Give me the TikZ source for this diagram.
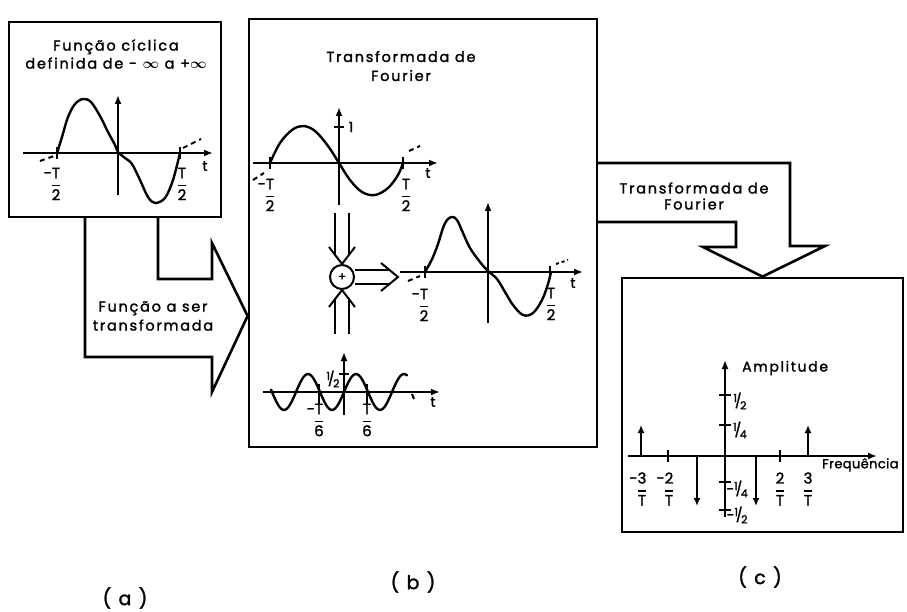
\documentclass[tikz,border=0pt]{standalone}
\usepackage{amsmath}
\usepackage{fontspec}
\newfontfamily\lettering[LetterSpace=12, FakeBold=1.6]{Poppins}
\newfontfamily\letteringn[LetterSpace=3, FakeBold=1.6]{Poppins}
\usetikzlibrary{arrows.meta}
\newcommand\fr[3]{\llap{#1}#2\\[-6pt]\rule[3pt]{8pt}{1.6pt}\\[-6pt]#3}
\newcommand\sfr[2]{\raisebox{0.5ex}{\fontsize{11}{11}\selectfont#1}\kern-0.15em/\kern-0.1em\raisebox{-0.45ex}{\fontsize{11}{11}\selectfont#2}}
\tikzset{
  boxst/.style={draw, line width=2.8pt, inner sep=0pt},
  blk/.style={line width=2.6pt, line join=miter},
  axis/.style={line width=2.2pt, -{Latex[length=9pt,width=7pt]}},
  crv/.style={line width=2.4pt, line cap=round},
  tck/.style={line width=2pt},
  dsh/.style={line width=2pt, dash pattern=on 5pt off 4pt},
  dblline/.style={line width=2pt, line join=miter},
  txt/.style={font=\lettering\fontsize{14.5}{16}\selectfont, inner sep=0pt, align=center},
  fracl/.style={font=\lettering\fontsize{15}{17}\selectfont, align=center, inner sep=0pt},
  small/.style={font=\lettering\fontsize{14}{14}\selectfont, inner sep=0pt},
  spec/.style={line width=2.4pt, -{Latex[length=8pt,width=7pt]}},
  captext/.style={font=\lettering\fontsize{19}{21}\selectfont, inner sep=0pt}
}
\begin{document}
\begin{tikzpicture}[x=1pt,y=-1pt]
\useasboundingbox (0,0) rectangle (907,612);
\clip (0,0) rectangle (907,612);
\fill[white] (0,0) rectangle (907,612);

% ---------- boxes
\node[boxst, minimum width=212pt, minimum height=195pt] (boxA) at (115,119.5) {};
\node[boxst, minimum width=348pt, minimum height=428pt] (boxB) at (423,233) {};
\node[boxst, minimum width=281pt, minimum height=254pt] (boxC) at (762.5,405) {};

% ---------- block arrow a -> b
\draw[blk] (85,217) -- (85,357) -- (212,357) -- (212,392) -- (boxB.west |- 0,316)
  -- (212,243) -- (212,279) -- (158,279) -- (158,217);
\node[txt] (lblab) at (153,316) {Função a ser\\[3pt]transformada};

% ---------- block arrow b -> c
\draw[blk] (597,163) -- (790,163) -- (790,246) -- (825,246) -- (boxC.north)
  -- (703,247) -- (736,247) -- (736,222) -- (597,222);
\node[txt] (lblbc) at (694,196) {Transformada de\\[0pt]Fourier};

% ---------- box (a)
\node[txt] (titA) at (116,54) {Função cíclica\\[2pt]definida de - $\boldsymbol{\infty}$ a +$\boldsymbol{\infty}$};
\draw[axis] (23,153) -- (213,153);
\draw[axis] (118,195) -- (118,95);
\draw[crv] plot[smooth, tension=0.55] coordinates {(57,153) (62,137) (68,117) (75,104) (83,99) (91,102) (100,116) (108,132) (115,145) (118,152) (125,158) (132,164) (140,180) (148,197) (155,203) (165,198) (173,180) (180,153)};
\draw[tck] (57,147) -- (57,159);
\draw[tck] (180,147) -- (180,159);
\draw[dsh] (40,161) -- (54,156);
\draw[dsh] (183,148) -- (201,139);
\node[fracl] (fa1) at (56,184) {\fr{-}{T}{2}};
\node[fracl] (fa2) at (182,184) {\fr{}{T}{2}};
\node[small] (ta) at (205,166) {t};

% ---------- box (b)
\node[txt] (titB) at (401,66) {Transformada de\\[3pt]Fourier};
% top plot
\draw[axis] (253,163) -- (438,163);
\draw[axis] (339,205) -- (339,107);
\draw[tck] (334,127) -- (344,127);
\node[small] (one) at (351,127) {1};
\draw[crv] plot[smooth, tension=0.6] coordinates {(270,163) (280,143) (292,130) (303,126) (315,131) (328,146) (339,163) (350,180) (362,192) (375,195) (388,188) (398,175) (403,163)};
\draw[tck] (270,157) -- (270,169);
\draw[tck] (403,157) -- (403,169);
\draw[dsh] (253,180) -- (264,173);
\draw[dsh] (409,151) -- (420,146);
\node[fracl] (fb1) at (270,195) {\fr{-}{T}{2}};
\node[fracl] (fb2) at (406,195) {\fr{}{T}{2}};
\node[small] (tb1) at (428,173) {t};

% summing junction
\node[circle, draw, line width=2pt, minimum size=24pt, inner sep=0pt, font=\lettering\large] (junc) at (342,277) {+};
% incoming from above
\coordinate (inT) at (342,213);
\draw[dblline] ([xshift=-7pt]inT) -- ([xshift=-7pt]inT |- 0,255);
\draw[dblline] ([xshift=7pt]inT) -- ([xshift=7pt]inT |- 0,255);
\draw[dblline] (329,247) -- (junc.north) -- (355,247);
% incoming from below
\coordinate (inB) at (342,334);
\draw[dblline] ([xshift=-7pt]inB) -- ([xshift=-7pt]inB |- 0,298);
\draw[dblline] ([xshift=7pt]inB) -- ([xshift=7pt]inB |- 0,298);
\draw[dblline] (329,307) -- (junc.south) -- (355,307);
% outgoing to the right
\coordinate (outR) at (398,277);
\draw[dblline] ([yshift=-7pt]junc.east) -- ([yshift=-7pt]outR -| 390,0);
\draw[dblline] ([yshift=7pt]junc.east) -- ([yshift=7pt]outR -| 390,0);
\draw[dblline] (381,263) -- (outR) -- (381,291);

% middle-right plot
\draw[axis] (400,272) -- (583,272);
\draw[axis] (488,323) -- (488,202);
\draw[crv] plot[smooth, tension=0.6] coordinates {(425,272) (429,265) (433,257) (438,244) (443,228) (447,220) (452,217) (457,220) (463,233) (470,248) (480,262) (488,271) (497,279) (505,292) (513,305) (523,315) (533,313) (542,300) (548,284) (551,272)};
\draw[tck] (425,266) -- (425,278);
\draw[tck] (550,266) -- (550,278);
\draw[dsh] (408,281) -- (420,276);
\draw[line width=2pt, dash pattern=on 3pt off 3pt] (556,264) -- (568,260);
\node[fracl] (fm1) at (424,305) {\fr{-}{T}{2}};
\node[fracl] (fm2) at (551,304) {\fr{}{T}{2}};
\node[small] (tm) at (573,283) {t};

% bottom plot
\draw[axis] (263,392) -- (440,392);
\draw[axis] (344,415) -- (344,352);
\draw[tck] (339,374) -- (349,374);
\node[small] (half) at (333,379) {\sfr{1}{2}};
\draw[crv, domain=271:407, samples=80, smooth] plot (\x, {392-18*sin(180*(\x-344)/24)});
\draw[tck] (319,384) -- (319,404);
\draw[tck] (367,384) -- (367,404);
\draw[line width=2pt] (412,394) -- (414,399);
\node[fracl] (fs1) at (319,420) {\fr{-}{T}{6}};
\node[fracl] (fs2) at (367,420) {\fr{}{T}{6}};
\node[small] (tbb) at (433,402) {t};

% ---------- box (c)
\draw[axis] (628,456) -- (877,456);
\draw[axis] (725,517) -- (725,360);
\node[small, anchor=west] (amp) at (742,368) {Amplitude};
\node[font=\letteringn\fontsize{13}{13}\selectfont, inner sep=0pt, anchor=west] (freq) at (822,465) {Frequência};
\foreach \yy in {395,425,482,510} \draw[tck] (719,\yy) -- (731,\yy);
\node[small] (c1) at (740,401) {\sfr{1}{2}};
\node[small] (c2) at (740,430) {\sfr{1}{4}};
\node[small] (c3) at (741,489) {\llap{-}\sfr{1}{4}};
\node[small] (c4) at (741,515) {\llap{-}\sfr{1}{2}};
\draw[tck] (668,450) -- (668,462);
\draw[tck] (780,450) -- (780,462);
\draw[spec] (641,456) -- (641,425);
\draw[spec] (808,456) -- (808,425);
\draw[spec] (697,456) -- (697,506);
\draw[spec] (756,456) -- (756,506);
\node[fracl] (s1) at (642,489) {\fr{-}{3}{T}};
\node[fracl] (s2) at (669,489) {\fr{-}{2}{T}};
\node[fracl] (s3) at (780,489) {\fr{}{2}{T}};
\node[fracl] (s4) at (808,489) {\fr{}{3}{T}};

% ---------- captions
\node[captext] (capa) at (125,598) {( a )};
\node[captext] (capb) at (413,582) {( b )};
\node[captext] (capc) at (760,577) {( c )};
\end{tikzpicture}
\end{document}
